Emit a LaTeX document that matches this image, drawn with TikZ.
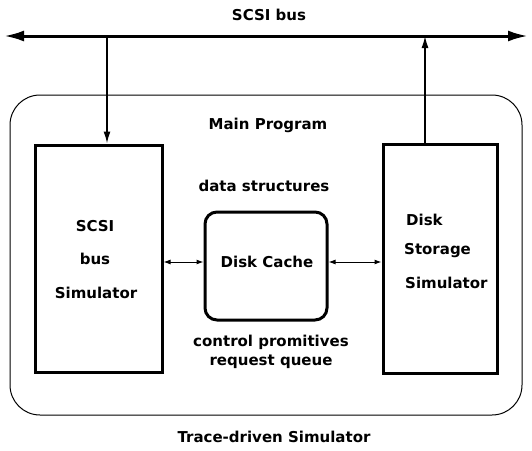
\documentclass[tikz,border=0pt]{standalone}
\usepackage{fontspec}
\setmainfont{DejaVu Sans}
\usetikzlibrary{arrows.meta}
\begin{document}
\begin{tikzpicture}[x=1pt,y=-1pt,
  lbl/.style={font=\bfseries\fontsize{15}{19}\selectfont, inner sep=0pt},
  simbox/.style={draw, line width=3pt},
  cachebox/.style={draw, line width=3pt, rounded corners=12pt},
  busline/.style={line width=3pt, {Latex[length=20pt,width=11pt]}-{Latex[length=20pt,width=11pt]}},
  feed/.style={line width=1.5pt, -{Latex[length=12pt,width=7pt]}},
  dbl/.style={line width=1pt, {Latex[length=7pt,width=5pt]}-{Latex[length=7pt,width=5pt]}}]
\useasboundingbox (0,0) rectangle (532,450);
% bus
\coordinate (busL) at (4,36);
\coordinate (busR) at (528,36);
\draw[busline] (busL) -- (busR);
\node[lbl] (buslbl) at (269,15) {SCSI bus};
% outer frame
\draw[line width=1pt, rounded corners=30pt] (10,95) rectangle (522,415);
\node[lbl] (main) at (268,125) {Main Program};
\node[lbl] (trace) at (274,437) {Trace-driven Simulator};
% boxes
\node[simbox, minimum width=127pt, minimum height=227pt] (scsi) at (98.5,258.5) {};
\node[simbox, minimum width=114pt, minimum height=229pt] (disk) at (440,258.5) {};
\node[cachebox, minimum width=122pt, minimum height=108pt] (cache) at (266,266) {};
\node[lbl] (cachelbl) at (267,262) {Disk Cache};
% texts
\node[lbl] (s1) at (95,226) {SCSI};
\node[lbl] (s2) at (95,259) {bus};
\node[lbl] (s3) at (96,293) {Simulator};
\node[lbl, anchor=west] (d1) at (406,220) {Disk};
\node[lbl, anchor=west] (d2) at (404,251) {Storage};
\node[lbl, anchor=west] (d3) at (405,283) {Simulator};
\node[lbl] (ds) at (264,186) {data structures};
\node[lbl, align=center] (cp) at (271,352) {control promitives\\request queue};
% connectors
\coordinate (busA) at (107,36);
\coordinate (busB) at (425,36);
\draw[feed] (busA) -- (busA |- scsi.north);
\draw[feed] (busB |- disk.north) -- (busB);
\draw[dbl] (scsi.east |- 0,262) -- (cache.west |- 0,262);
\draw[dbl] (cache.east |- 0,262) -- (disk.west |- 0,262);
\end{tikzpicture}
\end{document}
